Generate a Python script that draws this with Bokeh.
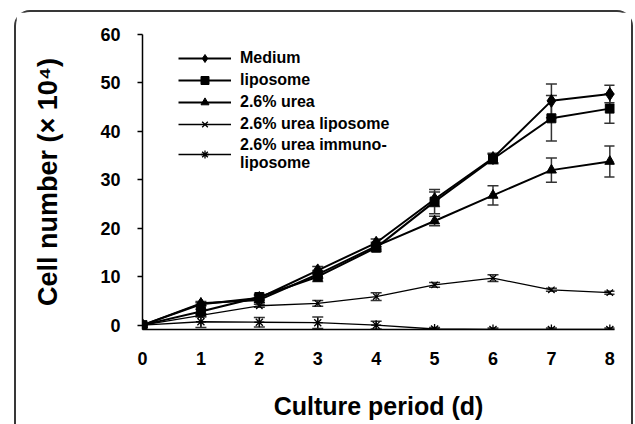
from bokeh.plotting import figure
from bokeh.models import (ColumnDataSource, Range1d, FixedTicker, Legend, LegendItem, Whisker)
from bokeh.embed import file_html
from bokeh.resources import INLINE

days = [0, 1, 2, 3, 4, 5, 6, 7, 8]
medium = [0, 4.3, 5.6, 11.3, 17.0, 26.0, 34.5, 46.3, 47.7]
medium_err = [0.3, 0.3, 0.5, 0.8, 0.8, 1.5, 1.0, 3.5, 1.8]
liposome = [0, 2.8, 5.8, 10.0, 16.0, 25.5, 34.3, 42.7, 44.7]
liposome_err = [0.3, 0.5, 0.5, 1.0, 0.8, 2.5, 1.0, 4.7, 3.0]
urea = [0, 4.5, 5.2, 10.5, 16.3, 21.5, 26.8, 32.0, 33.8]
urea_err = [0.3, 0.4, 0.5, 0.8, 0.8, 1.0, 2.0, 2.5, 3.2]
urea_lipo = [0, 2.0, 4.0, 4.5, 5.9, 8.3, 9.7, 7.3, 6.7]
urea_lipo_err = [0.2, 0.3, 0.3, 0.6, 0.8, 0.5, 0.7, 0.3, 0.3]
immuno = [0, 0.7, 0.6, 0.5, 0.0, -0.8, -0.9, -0.9, -0.9]
immuno_err = [0.2, 1.2, 1.0, 1.2, 0.8, 0.3, 0.3, 0.3, 0.3]

series_names = ["Medium", "liposome", "2.6% urea", "2.6% urea liposome", "2.6% urea immuno-\nliposome"]
y_ticks = [0, 10, 20, 30, 40, 50, 60]
x_ticks = days

FONT = "Liberation Sans"

p = figure(width=619, height=414, output_backend="svg", toolbar_location=None,
           x_range=Range1d(0, 8.08), y_range=Range1d(-0.9, 60),
           min_border_left=126, min_border_right=21, min_border_top=22, min_border_bottom=97)
p.styles = {"margin-left": "14px", "margin-top": "10px", "box-sizing": "border-box",
            "border-top": "2px solid #383838", "border-left": "2px solid #383838",
            "border-right": "2px solid #383838", "border-radius": "16px 16px 0 0"}
p.outline_line_color = None
p.grid.visible = False
p.background_fill_color = "white"
p.border_fill_color = "white"

for ax in (p.xaxis[0], p.yaxis[0]):
    ax.axis_line_color = "black"
    ax.axis_line_width = 1.5
    ax.major_label_text_font = FONT
    ax.major_label_text_font_style = "bold"
    ax.major_label_text_font_size = "18px"
    ax.major_label_text_color = "black"
    ax.axis_label_text_font = FONT
    ax.axis_label_text_font_style = "bold"
    ax.axis_label_text_color = "black"
    ax.minor_tick_line_color = None

p.xaxis.ticker = FixedTicker(ticks=x_ticks)
p.yaxis.ticker = FixedTicker(ticks=y_ticks)
p.xaxis.major_tick_line_color = None
p.xaxis.major_label_standoff = 16
p.xaxis.axis_label = "Culture period (d)"
p.xaxis.axis_label_standoff = 24
p.xaxis.axis_label_text_font_size = "25px"
p.yaxis.major_tick_out = 5
p.yaxis.major_tick_in = 0
p.yaxis.major_tick_line_width = 1.5
p.yaxis.major_label_standoff = 17
p.yaxis.axis_label = "Cell number (× 10⁴)"
p.yaxis.axis_label_standoff = 34
p.yaxis.axis_label_text_font_size = "27px"

data = [
    (medium, medium_err, "diamond", 13, 2.0),
    (liposome, liposome_err, "square", 9, 2.0),
    (urea, urea_err, "triangle", 10, 2.0),
    (urea_lipo, urea_lipo_err, "x", 9, 1.3),
    (immuno, immuno_err, "asterisk", 10, 1.3),
]

items = []
for (vals, errs, marker, size, lw), name in zip(data, series_names):
    src = ColumnDataSource(dict(x=days, y=vals,
                                lo=[v - e for v, e in zip(vals, errs)],
                                hi=[v + e for v, e in zip(vals, errs)]))
    w = Whisker(source=src, base="x", upper="hi", lower="lo", line_color="#333333", line_width=1.5)
    for head in (w.upper_head, w.lower_head):
        head.size = 11
        head.line_color = "#333333"
        head.line_width = 1.5
    p.add_layout(w)
    r_line = p.line("x", "y", source=src, line_color="black", line_width=lw)
    mk_kwargs = dict(line_color="black", fill_color="black", line_width=1.3 if marker in ("x", "asterisk") else 1)
    r_mk = p.scatter("x", "y", source=src, marker=marker, size=size, **mk_kwargs)
    items.append(LegendItem(label=name, renderers=[r_line, r_mk]))

legend = Legend(items=items, location=(36, 157), orientation="vertical",
                glyph_width=53, glyph_height=20, label_height=20, label_standoff=9,
                spacing=2, padding=0, margin=0,
                label_text_font=FONT, label_text_font_style="bold", label_text_font_size="16px",
                label_text_line_height=1.25,
                label_text_color="black", border_line_color=None, background_fill_alpha=0)
p.add_layout(legend)

open("out.html", "w").write(file_html(p, INLINE))
